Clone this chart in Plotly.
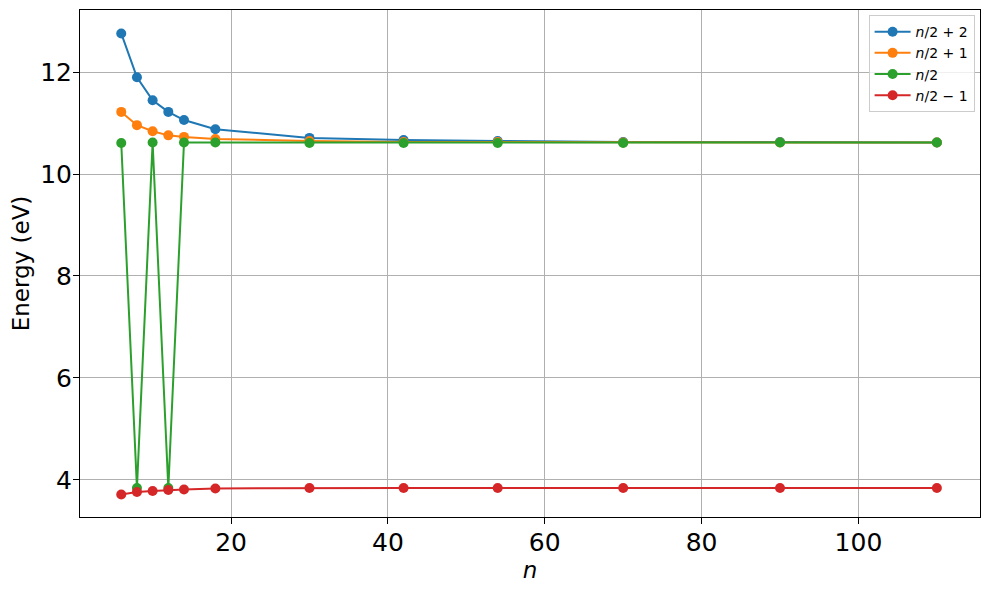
import plotly.graph_objects as go

# Data
n_values = [6, 8, 10, 12, 14, 18, 30, 42, 54, 70, 90, 110]

energy_plus2 = [12.76, 11.90, 11.45, 11.22, 11.06, 10.88, 10.71, 10.67, 10.65, 10.63, 10.63, 10.62]
energy_plus1 = [11.22, 10.96, 10.84, 10.76, 10.73, 10.69, 10.65, 10.63, 10.63, 10.62, 10.62, 10.62]
energy_half = [10.61, 3.84, 10.62, 3.84, 10.62, 10.62, 10.61, 10.61, 10.61, 10.61, 10.62, 10.62]
energy_minus1 = [3.71, 3.76, 3.78, 3.80, 3.81, 3.83, 3.84, 3.84, 3.84, 3.84, 3.84, 3.84]

series_labels = [
    "<i>n</i>/2 + 2",
    "<i>n</i>/2 + 1",
    "<i>n</i>/2",
    "<i>n</i>/2 \u2212 1",
]
series_colors = ["#1f77b4", "#ff7f0e", "#2ca02c", "#d62728"]
series_values = [energy_plus2, energy_plus1, energy_half, energy_minus1]

fig = go.Figure()
for label, color, values in zip(series_labels, series_colors, series_values):
    fig.add_trace(go.Scatter(
        x=n_values,
        y=values,
        mode="lines+markers",
        name=label,
        line=dict(color=color, width=2),
        marker=dict(color=color, size=10),
    ))

axis_common = dict(
    showgrid=True,
    gridcolor="#b0b0b0",
    gridwidth=1,
    showline=True,
    linecolor="black",
    linewidth=1,
    mirror=True,
    ticks="outside",
    ticklen=6,
    tickcolor="black",
    zeroline=False,
    automargin=False,
    tickfont=dict(size=25, color="black"),
)

# page body has an 8px margin, so the figure is shrunk by that much
fig.update_layout(
    width=981,
    height=582,
    plot_bgcolor="white",
    paper_bgcolor="white",
    font=dict(family="DejaVu Sans", color="black"),
    margin=dict(l=72, r=9, t=2, b=73),
    xaxis=dict(
        **axis_common,
        range=[0.74, 115.5],
        tickvals=[20, 40, 60, 80, 100],
        ticklabelstandoff=-3,
        title=dict(text="<i>n</i>", font=dict(size=23), standoff=4),
    ),
    yaxis=dict(
        **axis_common,
        range=[3.27, 13.22],
        tickvals=[4, 6, 8, 10, 12],
        ticklabelstandoff=-4,
        title=dict(text="Energy (eV)", font=dict(size=23), standoff=4),
    ),
    legend=dict(
        x=0.994,
        y=0.99,
        xanchor="right",
        yanchor="top",
        bgcolor="rgba(255,255,255,0.8)",
        bordercolor="#cccccc",
        borderwidth=1,
        font=dict(size=14),
        tracegroupgap=0,
        itemwidth=36,
    ),
)

fig.write_html("out.html")
